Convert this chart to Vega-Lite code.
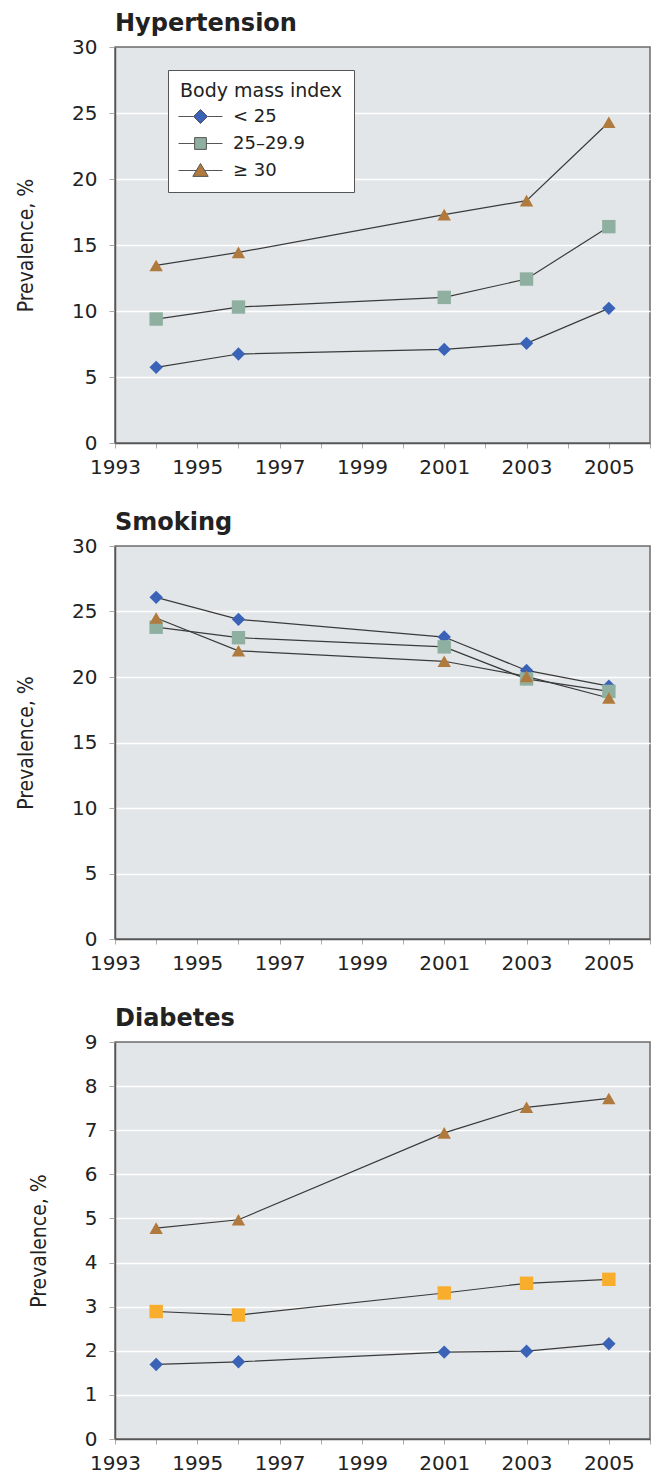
{
  "$schema": "https://vega.github.io/schema/vega-lite/v6.json",
  "background": "white",
  "padding": {"left": 14, "top": 11, "right": 0, "bottom": 0},
  "data": {"values": [
    {"panel": "Hypertension", "year": 1994, "group": "< 25", "value": 5.73},
    {"panel": "Hypertension", "year": 1996, "group": "< 25", "value": 6.74},
    {"panel": "Hypertension", "year": 2001, "group": "< 25", "value": 7.09},
    {"panel": "Hypertension", "year": 2003, "group": "< 25", "value": 7.55},
    {"panel": "Hypertension", "year": 2005, "group": "< 25", "value": 10.2},
    {"panel": "Hypertension", "year": 1994, "group": "25–29.9", "value": 9.39},
    {"panel": "Hypertension", "year": 1996, "group": "25–29.9", "value": 10.3},
    {"panel": "Hypertension", "year": 2001, "group": "25–29.9", "value": 11.03},
    {"panel": "Hypertension", "year": 2003, "group": "25–29.9", "value": 12.42},
    {"panel": "Hypertension", "year": 2005, "group": "25–29.9", "value": 16.39},
    {"panel": "Hypertension", "year": 1994, "group": "≥ 30", "value": 13.45},
    {"panel": "Hypertension", "year": 1996, "group": "≥ 30", "value": 14.44},
    {"panel": "Hypertension", "year": 2001, "group": "≥ 30", "value": 17.3},
    {"panel": "Hypertension", "year": 2003, "group": "≥ 30", "value": 18.36},
    {"panel": "Hypertension", "year": 2005, "group": "≥ 30", "value": 24.3},
    {"panel": "Smoking", "year": 1994, "group": "< 25", "value": 26.08},
    {"panel": "Smoking", "year": 1996, "group": "< 25", "value": 24.4},
    {"panel": "Smoking", "year": 2001, "group": "< 25", "value": 23.05},
    {"panel": "Smoking", "year": 2003, "group": "< 25", "value": 20.5},
    {"panel": "Smoking", "year": 2005, "group": "< 25", "value": 19.3},
    {"panel": "Smoking", "year": 1994, "group": "25–29.9", "value": 23.8},
    {"panel": "Smoking", "year": 1996, "group": "25–29.9", "value": 23.0},
    {"panel": "Smoking", "year": 2001, "group": "25–29.9", "value": 22.3},
    {"panel": "Smoking", "year": 2003, "group": "25–29.9", "value": 19.85},
    {"panel": "Smoking", "year": 2005, "group": "25–29.9", "value": 18.9},
    {"panel": "Smoking", "year": 1994, "group": "≥ 30", "value": 24.5},
    {"panel": "Smoking", "year": 1996, "group": "≥ 30", "value": 22.0},
    {"panel": "Smoking", "year": 2001, "group": "≥ 30", "value": 21.2},
    {"panel": "Smoking", "year": 2003, "group": "≥ 30", "value": 20.05},
    {"panel": "Smoking", "year": 2005, "group": "≥ 30", "value": 18.4},
    {"panel": "Diabetes", "year": 1994, "group": "< 25", "value": 1.69},
    {"panel": "Diabetes", "year": 1996, "group": "< 25", "value": 1.75},
    {"panel": "Diabetes", "year": 2001, "group": "< 25", "value": 1.97},
    {"panel": "Diabetes", "year": 2003, "group": "< 25", "value": 1.99},
    {"panel": "Diabetes", "year": 2005, "group": "< 25", "value": 2.16},
    {"panel": "Diabetes", "year": 1994, "group": "25–29.9", "value": 2.89},
    {"panel": "Diabetes", "year": 1996, "group": "25–29.9", "value": 2.81},
    {"panel": "Diabetes", "year": 2001, "group": "25–29.9", "value": 3.31},
    {"panel": "Diabetes", "year": 2003, "group": "25–29.9", "value": 3.53},
    {"panel": "Diabetes", "year": 2005, "group": "25–29.9", "value": 3.62},
    {"panel": "Diabetes", "year": 1994, "group": "≥ 30", "value": 4.78},
    {"panel": "Diabetes", "year": 1996, "group": "≥ 30", "value": 4.97},
    {"panel": "Diabetes", "year": 2001, "group": "≥ 30", "value": 6.94},
    {"panel": "Diabetes", "year": 2003, "group": "≥ 30", "value": 7.52},
    {"panel": "Diabetes", "year": 2005, "group": "≥ 30", "value": 7.72}
  ]},
  "config": {
    "font": "DejaVu Sans",
    "view": {"fill": "#e3e6e9", "stroke": "#6b6b6b", "strokeWidth": 1.5},
    "title": {"anchor": "start", "frame": "group", "fontSize": 24, "font": "DejaVu Sans", "fontWeight": "bold", "color": "#222222", "offset": 1},
    "concat": {"spacing": 32},
    "axis": {"labelFont": "DejaVu Sans", "labelFontSize": 20, "labelColor": "#222222", "domainColor": "#555555", "domainWidth": 1.5, "tickColor": "#aaaaaa"},
    "axisX": {"grid": false, "tickSize": 5, "labelPadding": 9, "labelFlush": false, "title": null, "format": "d", "values": [1993, 1995, 1997, 1999, 2001, 2003, 2005]},
    "axisY": {
      "grid": true,
      "gridColor": {"condition": {"test": "datum.value === 0 || datum.value === 30 || datum.value === 9", "value": "transparent"}, "value": "white"},
      "gridWidth": 1.5, "tickSize": 6, "labelPadding": 12,
      "titleFont": "DejaVu Sans Condensed", "titleFontSize": 21, "titleFontWeight": "normal", "titleColor": "#222222", "titlePadding": 35
    },
    "legend": {
      "titleFont": "DejaVu Sans", "titleFontSize": 19, "titleFontWeight": "normal", "titleColor": "#222222", "titlePadding": 1,
      "labelFont": "DejaVu Sans", "labelFontSize": 18, "labelColor": "#222222",
      "symbolSize": 784, "symbolOffset": 6, "labelOffset": 18, "rowPadding": 3,
      "padding": 12, "fillColor": "white", "strokeColor": "#555555",
      "symbolOpacity": 1, "symbolStrokeWidth": 1, "symbolStrokeColor": "#555555"
    }
  },
  "resolve": {"scale": {"color": "independent", "shape": "independent"}},
  "vconcat": [
    {
      "title": "Hypertension",
      "width": 535, "height": 396,
      "transform": [{"filter": "datum.panel === 'Hypertension'"}],
      "encoding": {
        "x": {"field": "year", "type": "quantitative", "scale": {"domain": [1993, 2006], "nice": false, "zero": false}},
        "y": {"field": "value", "type": "quantitative", "title": "Prevalence, %", "scale": {"domain": [0, 30], "nice": false}, "axis": {"values": [0, 5, 10, 15, 20, 25, 30]}}
      },
      "layer": [
        {"mark": {"type": "line", "color": "#3a3a3a", "strokeWidth": 1.2}, "encoding": {"detail": {"field": "group"}}},
        {"mark": {"type": "point", "filled": true, "opacity": 1, "size": 180},
         "encoding": {
           "color": {"field": "group", "type": "nominal", "scale": {"domain": ["< 25", "25–29.9", "≥ 30"], "range": ["#3a63b8", "#8fb0a0", "#b07a3e"]}, "legend": null},
           "shape": {"field": "group", "type": "nominal", "scale": {"domain": ["< 25", "25–29.9", "≥ 30"], "range": ["diamond", "square", "triangle-up"]}, "legend": null}
         }},
        {"mark": {"type": "point", "filled": true, "opacity": 0},
         "encoding": {
           "color": {"field": "group", "type": "nominal", "scale": {"domain": ["< 25", "25–29.9", "≥ 30"], "range": ["#3a63b8", "#8fb0a0", "#b07a3e"]},
             "legend": {"title": "Body mass index", "orient": "none", "legendX": 53, "legendY": 23, "symbolOpacity": 1,
               "encode": {"symbols": {"update": {"stroke": {"value": "#555555"}, "strokeWidth": {"value": 1}, "opacity": {"value": 1}}}}}},
           "shape": {"field": "group", "type": "nominal",
             "scale": {"domain": ["< 25", "25–29.9", "≥ 30"], "range": [
               "M-1.57,0H-0.5M0.5,0H1.57M0,-0.5L0.5,0L0,0.5L-0.5,0Z",
               "M-1.57,0H-0.42M0.42,0H1.57M-0.42,-0.42H0.42V0.42H-0.42Z",
               "M-1.57,0H-0.3M0.3,0H1.57M0,-0.5L0.55,0.42H-0.55Z"]},
             "legend": {"title": "Body mass index", "orient": "none", "legendX": 53, "legendY": 23, "symbolOpacity": 1,
               "encode": {"symbols": {"update": {"stroke": {"value": "#555555"}, "strokeWidth": {"value": 1}, "opacity": {"value": 1}}}}}}
         }}
      ],
      "resolve": {"scale": {"shape": "independent", "color": "independent"}}
    },
    {
      "title": "Smoking",
      "width": 535, "height": 393,
      "transform": [{"filter": "datum.panel === 'Smoking'"}],
      "encoding": {
        "x": {"field": "year", "type": "quantitative", "scale": {"domain": [1993, 2006], "nice": false, "zero": false}},
        "y": {"field": "value", "type": "quantitative", "title": "Prevalence, %", "scale": {"domain": [0, 30], "nice": false}, "axis": {"values": [0, 5, 10, 15, 20, 25, 30]}}
      },
      "layer": [
        {"mark": {"type": "line", "color": "#3a3a3a", "strokeWidth": 1.2}, "encoding": {"detail": {"field": "group"}}},
        {"mark": {"type": "point", "filled": true, "opacity": 1, "size": 180},
         "encoding": {
           "color": {"field": "group", "type": "nominal", "scale": {"domain": ["< 25", "25–29.9", "≥ 30"], "range": ["#3a63b8", "#8fb0a0", "#b07a3e"]}, "legend": null},
           "shape": {"field": "group", "type": "nominal", "scale": {"domain": ["< 25", "25–29.9", "≥ 30"], "range": ["diamond", "square", "triangle-up"]}, "legend": null}
         }}
      ]
    },
    {
      "title": "Diabetes",
      "width": 535, "height": 397,
      "transform": [{"filter": "datum.panel === 'Diabetes'"}],
      "encoding": {
        "x": {"field": "year", "type": "quantitative", "scale": {"domain": [1993, 2006], "nice": false, "zero": false}},
        "y": {"field": "value", "type": "quantitative", "title": "Prevalence, %", "scale": {"domain": [0, 9], "nice": false}, "axis": {"values": [0, 1, 2, 3, 4, 5, 6, 7, 8, 9]}}
      },
      "layer": [
        {"mark": {"type": "line", "color": "#3a3a3a", "strokeWidth": 1.2}, "encoding": {"detail": {"field": "group"}}},
        {"mark": {"type": "point", "filled": true, "opacity": 1, "size": 180},
         "encoding": {
           "color": {"field": "group", "type": "nominal", "scale": {"domain": ["< 25", "25–29.9", "≥ 30"], "range": ["#3a63b8", "#f9ad2c", "#b07a3e"]}, "legend": null},
           "shape": {"field": "group", "type": "nominal", "scale": {"domain": ["< 25", "25–29.9", "≥ 30"], "range": ["diamond", "square", "triangle-up"]}, "legend": null}
         }}
      ]
    }
  ]
}
